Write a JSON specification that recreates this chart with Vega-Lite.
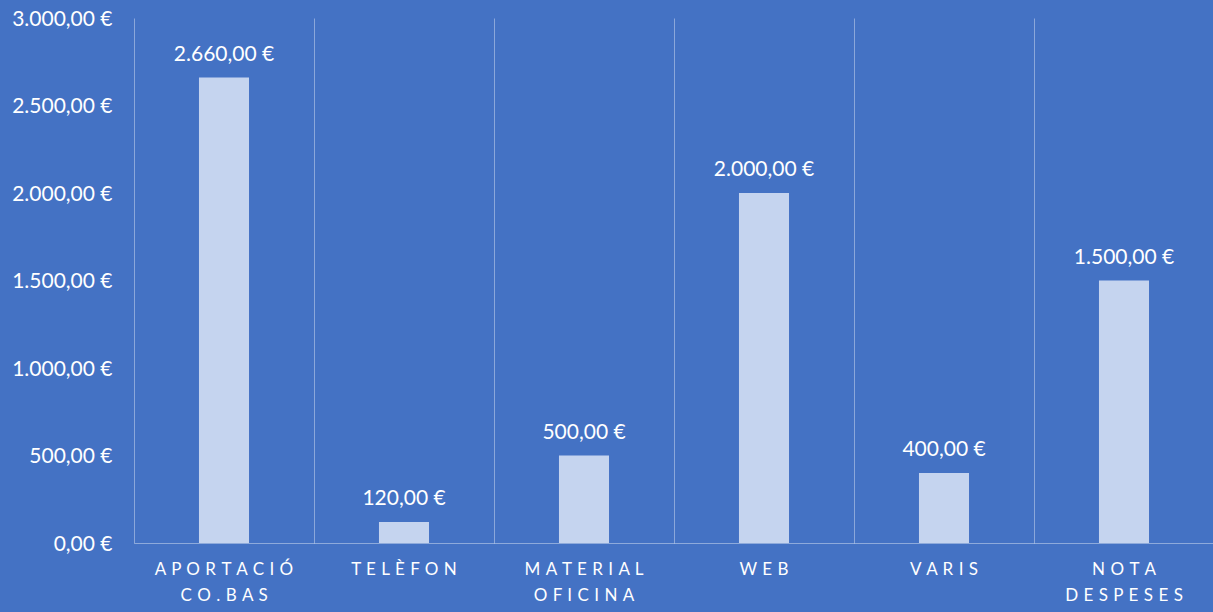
{
  "$schema": "https://vega.github.io/schema/vega-lite/v6.json",
  "width": 1080,
  "height": 525,
  "autosize": {"type": "none"},
  "padding": {"left": 134, "top": 18, "right": 0, "bottom": 69},
  "background": "#4472C4",
  "config": {
    "view": {"stroke": null},
    "font": "Lato",
    "locale": {"number": {"decimal": ",", "thousands": ".", "grouping": [3], "currency": ["", " €"]}}
  },
  "data": {
    "values": [
      {"categoria": "APORTACIÓ CO.BAS", "import": 2660},
      {"categoria": "TELÈFON", "import": 120},
      {"categoria": "MATERIAL OFICINA", "import": 500},
      {"categoria": "WEB", "import": 2000},
      {"categoria": "VARIS", "import": 400},
      {"categoria": "NOTA DESPESES", "import": 1500}
    ]
  },
  "encoding": {
    "x": {
      "field": "categoria",
      "type": "nominal",
      "sort": null,
      "scale": {"paddingInner": 0, "paddingOuter": 0},
      "axis": {
        "title": null,
        "labelAngle": 0,
        "labelFontSize": 17,
        "labelColor": "#ffffff",
        "labelPadding": 18,
        "labelLineHeight": 26,
        "labelBaseline": "top",
        "ticks": false,
        "domain": true,
        "domainColor": "#ffffff",
        "domainOpacity": 0.4,
        "grid": true,
        "gridColor": "#ffffff",
        "gridOpacity": 0.38,
        "bandPosition": 0,
        "labelExpr": "length(split(datum.label,' '))>1 ? [join(split(split(datum.label,' ')[0],''),'\u00a0\u200a'), join(split(split(datum.label,' ')[1],''),'\u00a0\u200a')] : join(split(datum.label,''),'\u00a0\u200a')"
      }
    },
    "y": {
      "field": "import",
      "type": "quantitative",
      "scale": {"domain": [0, 3000]},
      "axis": {
        "title": null,
        "values": [0, 500, 1000, 1500, 2000, 2500, 3000],
        "format": "$,.2f",
        "labelFontSize": 21,
        "labelColor": "#ffffff",
        "labelPadding": 22,
        "labelOffset": 1,
        "domain": false,
        "ticks": false,
        "grid": false
      }
    }
  },
  "layer": [
    {"mark": {"type": "bar", "width": {"band": 0.278}, "fill": "#C5D4EF"}},
    {
      "mark": {"type": "text", "color": "#ffffff", "fontSize": 21, "baseline": "alphabetic", "dy": -17},
      "encoding": {"text": {"field": "import", "type": "quantitative", "format": "$,.2f"}}
    }
  ]
}
